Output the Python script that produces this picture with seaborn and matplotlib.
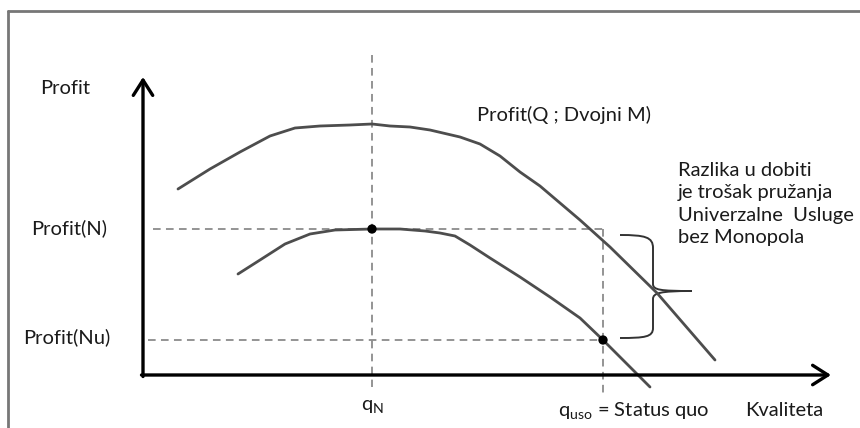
import matplotlib
matplotlib.use("Agg")
import matplotlib.pyplot as plt
import seaborn as sns
from matplotlib.lines import Line2D
from matplotlib.path import Path
from matplotlib.patches import PathPatch

# quality (x) and profit (y), origin at the axis corner
upper_q = [35, 67, 97, 127, 152, 177, 207, 229, 247, 267, 287, 317, 337, 357,
           377, 397, 417, 437, 447, 467, 514, 572]
upper_p = [186, 206, 223, 239, 247, 249, 250, 251, 249, 248, 245, 238, 231, 219,
           203, 189, 172, 155, 146, 128, 82, 15]

lower_q = [95, 117, 142, 167, 192, 229, 257, 282, 297, 312, 327, 347, 377, 407,
           437, 460, 507]
lower_p = [101, 115, 131, 141, 145, 146, 146, 144, 142, 139, 130, 117, 98, 78,
           57, 35, -12]

q_n = 229
q_uso = 460
profit_n = 146
profit_nu = 35

level_labels = ["Profit(N)", "Profit(Nu)"]
note_lines = ["Razlika u dobiti", "je trošak pružanja",
              "Univerzalne  Usluge", "bez Monopola"]

sns.set_theme(style="white")
plt.rcParams["font.family"] = ["Lato", "DejaVu Sans"]
plt.rcParams["mathtext.fontset"] = "custom"
plt.rcParams["mathtext.rm"] = "Lato"

fig = plt.figure(figsize=(8.6, 4.28), dpi=100)
ax = fig.add_axes([0, 0, 1, 1])
ax.set_xlim(-143, 717)
ax.set_ylim(-53, 375)
ax.axis("off")

# scanned frame (left and top edges)
fig.add_artist(Line2D([8 / 860, 8 / 860], [0, 1 - 11 / 428], color="#777777", lw=2))
fig.add_artist(Line2D([8 / 860, 1], [1 - 11 / 428, 1 - 11 / 428], color="#777777", lw=2))

dash = (0, (5, 3.5))
gcol = "#777777"
# guide lines
ax.plot([q_n, q_n], [320, -12], color=gcol, lw=1.1, ls=dash)
ax.plot([q_uso, q_uso], [profit_n, -21], color=gcol, lw=1.1, ls=dash)
ax.plot([10, q_uso], [profit_n, profit_n], color=gcol, lw=1.1, ls=dash)
ax.plot([5, q_uso], [profit_nu, profit_nu], color=gcol, lw=1.1, ls=dash)

# axes with open arrowheads
arrow = dict(arrowstyle="->,head_length=0.55,head_width=0.35", color="black",
             lw=2.4, mutation_scale=20, shrinkA=0, shrinkB=0)
ax.annotate("", xy=(0, 298), xytext=(0, -1.5), arrowprops=arrow)
ax.annotate("", xy=(688, 0), xytext=(-1.5, 0), arrowprops=arrow)

# profit curves
sns.lineplot(x=upper_q, y=upper_p, sort=False, color="#4d4d4d", lw=2.0, ax=ax)
sns.lineplot(x=lower_q, y=lower_p, sort=False, color="#4d4d4d", lw=2.0, ax=ax)
sns.scatterplot(x=[q_n, q_uso], y=[profit_n, profit_nu], color="black", s=45,
                edgecolor="none", zorder=5, ax=ax)

# curly brace
top = [(477, 140), (502, 140), (510, 138), (510, 127), (510, 91),
       (510, 85), (517, 84), (549, 84)]
bot = [(549, 84), (517, 84), (510, 82), (510, 76), (510, 47),
       (510, 38), (502, 37), (477, 37)]
codes = [Path.MOVETO, Path.CURVE4, Path.CURVE4, Path.CURVE4, Path.LINETO,
         Path.CURVE4, Path.CURVE4, Path.CURVE4]
for pts in (top, bot):
    ax.add_patch(PathPatch(Path(pts, codes), fill=False, color="#333333", lw=1.4))

fs = 14.5
tc = "#1a1a1a"
ax.text(-78, 287, "Profit", fontsize=fs, ha="center", va="center", color=tc)
ax.text(-74, profit_n + 1, level_labels[0], fontsize=fs, ha="center", va="center", color=tc)
ax.text(-76, profit_nu + 3, level_labels[1], fontsize=fs, ha="center", va="center", color=tc)
ax.text(q_n, -32, r"q$_\mathrm{N}$", fontsize=fs, ha="center", va="center", color=tc)
ax.text(415, -36, r"q$_\mathrm{uso}$ = Status quo", fontsize=fs, ha="left", va="center", color=tc)
ax.text(602, -35, "Kvaliteta", fontsize=fs, ha="left", va="center", color=tc)
ax.text(334, 260, "Profit(Q ; Dvojni M)", fontsize=fs, ha="left", va="center", color=tc)
ax.text(535, 171, "\n".join(note_lines), fontsize=fs, ha="left", va="center",
        linespacing=1.38, color=tc)

fig.savefig("out.png", dpi=100, facecolor="white")
